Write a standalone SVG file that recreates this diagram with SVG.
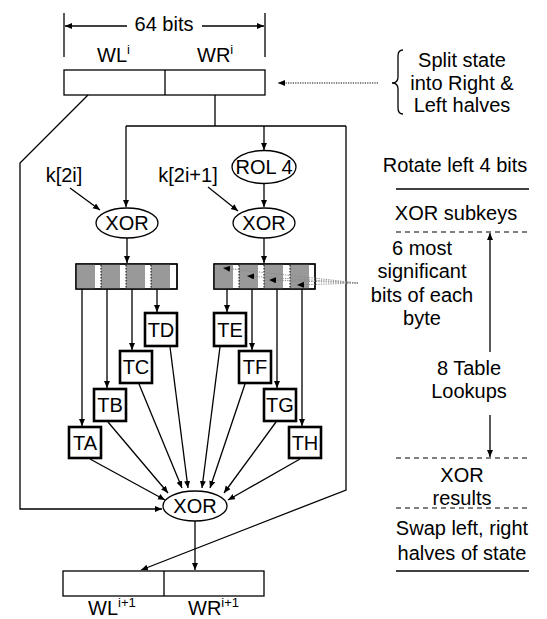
<svg xmlns="http://www.w3.org/2000/svg" width="547" height="619" viewBox="0 0 547 619">
<defs>
<marker id="ah" markerUnits="userSpaceOnUse" markerWidth="8" markerHeight="7" refX="7" refY="3" orient="auto">
<path d="M0,0 L7,3 L0,6 z" fill="#000"/>
</marker>
</defs>
<style>
text{font-family:"Liberation Sans",Arial,sans-serif;font-size:20px;fill:#000}
.c{text-anchor:middle}
.sup{font-size:13px}
.ln{fill:none;stroke:#000;stroke-width:1.3}
.ar{fill:none;stroke:#000;stroke-width:1.3;marker-end:url(#ah)}
.box{fill:#fff;stroke:#000;stroke-width:2.6}
.ell{fill:#fff;stroke:#000;stroke-width:1.3}
.regbox{fill:#fff;stroke:#000;stroke-width:1.3}
.frame{fill:none;stroke:#000;stroke-width:1.3}
.gray{fill:#999999}
.dot{fill:none;stroke:#000;stroke-width:1;stroke-dasharray:1.2 1.2}
.gdot{fill:none;stroke:#888;stroke-width:1;stroke-dasharray:1.2 1.2}
.sep{fill:none;stroke:#000;stroke-width:1;stroke-dasharray:1.5 1.5}
.dash{fill:none;stroke:#000;stroke-width:1.2;stroke-dasharray:5 4}
</style>

<g id="dimension">
<line class="ln" x1="64" y1="13" x2="64" y2="57"/>
<line class="ln" x1="265" y1="13" x2="265" y2="57"/>
<line class="ar" x1="127" y1="26" x2="65" y2="26"/>
<line class="ar" x1="202" y1="26" x2="264" y2="26"/>
<text class="c" x="164" y="31">64 bits</text>
</g>

<g id="state-in">
<rect class="regbox" x="64" y="70" width="201" height="25"/>
<line class="ln" x1="165" y1="70" x2="165" y2="95"/>
<text x="97" y="62">WL<tspan class="sup" dy="-8">i</tspan></text>
<text x="197" y="62">WR<tspan class="sup" dy="-8">i</tspan></text>
</g>

<g id="rol4">
<ellipse class="ell" cx="264" cy="167" rx="32" ry="16.5"/>
<text class="c" x="264" y="174">ROL 4</text>
</g>

<g id="xor-left">
<ellipse class="ell" cx="127" cy="223" rx="31" ry="15"/>
<text class="c" x="127" y="230">XOR</text>
</g>

<g id="xor-right">
<ellipse class="ell" cx="264" cy="223" rx="31" ry="15"/>
<text class="c" x="264" y="230">XOR</text>
</g>

<g id="k2i"><text class="c" x="64" y="182">k[2i]</text></g>
<g id="k2i1"><text class="c" x="188" y="182">k[2i+1]</text></g>

<g id="reg-left">
<rect class="regbox" x="76" y="264" width="101" height="25"/>
<rect class="gray" x="76" y="264" width="19" height="25"/>
<rect class="gray" x="101" y="264" width="19" height="25"/>
<rect class="gray" x="126" y="264" width="19" height="25"/>
<rect class="gray" x="151" y="264" width="19" height="25"/>
<rect class="frame" x="76" y="264" width="101" height="25"/>
<line class="sep" x1="101" y1="265" x2="101" y2="288"/>
<line class="sep" x1="126" y1="265" x2="126" y2="288"/>
<line class="sep" x1="151" y1="265" x2="151" y2="288"/>
</g>

<g id="reg-right">
<rect class="regbox" x="214" y="264" width="101" height="25"/>
<rect class="gray" x="214" y="264" width="19" height="25"/>
<rect class="gray" x="239" y="264" width="19" height="25"/>
<rect class="gray" x="264" y="264" width="19" height="25"/>
<rect class="gray" x="290" y="264" width="19" height="25"/>
<rect class="frame" x="214" y="264" width="101" height="25"/>
<line class="sep" x1="239" y1="265" x2="239" y2="288"/>
<line class="sep" x1="264" y1="265" x2="264" y2="288"/>
<line class="sep" x1="290" y1="265" x2="290" y2="288"/>
</g>

<g id="TD"><rect class="box" x="145" y="313" width="32" height="33"/><text class="c" x="161" y="337">TD</text></g>
<g id="TC"><rect class="box" x="120" y="351" width="32" height="32"/><text class="c" x="136" y="374">TC</text></g>
<g id="TB"><rect class="box" x="94" y="389" width="32" height="32"/><text class="c" x="110" y="412">TB</text></g>
<g id="TA"><rect class="box" x="69" y="427" width="32" height="31"/><text class="c" x="85" y="450">TA</text></g>
<g id="TE"><rect class="box" x="214" y="313" width="32" height="33"/><text class="c" x="230" y="337">TE</text></g>
<g id="TF"><rect class="box" x="239" y="351" width="32" height="32"/><text class="c" x="255" y="374">TF</text></g>
<g id="TG"><rect class="box" x="264" y="389" width="32" height="32"/><text class="c" x="280" y="412">TG</text></g>
<g id="TH"><rect class="box" x="289" y="427" width="32" height="31"/><text class="c" x="305" y="450">TH</text></g>

<g id="xor-final">
<ellipse class="ell" cx="195" cy="506" rx="32" ry="15"/>
<text class="c" x="195" y="513">XOR</text>
</g>

<g id="state-out">
<rect class="regbox" x="63" y="571" width="201" height="25"/>
<line class="ln" x1="164" y1="571" x2="164" y2="596"/>
<text x="88" y="615">WL<tspan class="sup" dy="-8">i+1</tspan></text>
<text x="188" y="615">WR<tspan class="sup" dy="-8">i+1</tspan></text>
</g>

<g id="annotations">
<path class="ln" d="M403,50 Q398,50 398,56 L398,77 Q398,83 392,83 Q398,83 398,89 L398,108 Q398,114 403,114"/>
<text class="c" x="462" y="67">Split state</text>
<text class="c" x="462" y="90">into Right &amp;</text>
<text class="c" x="462" y="112">Left halves</text>
<text class="c" x="455" y="172">Rotate left 4 bits</text>
<line class="ln" x1="396" y1="189" x2="529" y2="189"/>
<text class="c" x="456" y="220">XOR subkeys</text>
<line class="dash" x1="396" y1="232" x2="529" y2="232"/>
<text class="c" x="422" y="255">6 most</text>
<text class="c" x="422" y="278">significant</text>
<text class="c" x="422" y="302">bits of each</text>
<text class="c" x="422" y="325">byte</text>
<text class="c" x="469" y="375">8 Table</text>
<text class="c" x="469" y="398">Lookups</text>
<line class="dash" x1="396" y1="458" x2="529" y2="458"/>
<text class="c" x="462" y="482">XOR</text>
<text class="c" x="462" y="505">results</text>
<line class="dash" x1="396" y1="508" x2="529" y2="508"/>
<text class="c" x="462" y="535">Swap left, right</text>
<text class="c" x="462" y="560">halves of state</text>
<line class="ln" x1="396" y1="571" x2="529" y2="571"/>
</g>

<g id="connectors">
<polyline class="ar" points="88,95 20,163 20,509 162,509"/>
<line class="ln" x1="215" y1="95" x2="215" y2="126"/>
<polyline class="ar" points="126,126 126,207"/>
<line class="ln" x1="126" y1="126" x2="346" y2="126"/>
<line class="ar" x1="264" y1="126" x2="264" y2="150"/>
<polyline class="ar" points="346,126 346,490 141,570"/>
<line class="ar" x1="264" y1="184" x2="264" y2="207"/>
<line class="ar" x1="70" y1="188" x2="100" y2="210"/>
<line class="ar" x1="208" y1="187" x2="238" y2="211"/>
<line class="ar" x1="127" y1="238" x2="127" y2="263"/>
<line class="ar" x1="264" y1="238" x2="264" y2="263"/>
<line class="ar" x1="157" y1="289" x2="157" y2="312"/>
<line class="ar" x1="132" y1="289" x2="132" y2="350"/>
<line class="ar" x1="107" y1="289" x2="107" y2="388"/>
<line class="ar" x1="82" y1="289" x2="82" y2="426"/>
<line class="ar" x1="227" y1="289" x2="227" y2="312"/>
<line class="ar" x1="252" y1="289" x2="252" y2="350"/>
<line class="ar" x1="277" y1="289" x2="277" y2="388"/>
<line class="ar" x1="302" y1="289" x2="302" y2="426"/>
<line class="ar" x1="90" y1="459" x2="165" y2="500"/>
<line class="ar" x1="108" y1="422" x2="168" y2="493"/>
<line class="ar" x1="139" y1="384" x2="182" y2="488"/>
<line class="ar" x1="170" y1="347" x2="188" y2="488"/>
<line class="ar" x1="220" y1="347" x2="202" y2="488"/>
<line class="ar" x1="245" y1="384" x2="210" y2="488"/>
<line class="ar" x1="276" y1="422" x2="224" y2="493"/>
<line class="ar" x1="300" y1="459" x2="228" y2="500"/>
<line class="ar" x1="195" y1="521" x2="195" y2="570"/>
<line class="dot" x1="378" y1="83" x2="278" y2="83" marker-end="url(#ah)"/>
<line class="gdot" x1="358" y1="283" x2="223" y2="268" marker-end="url(#ah)"/>
<line class="gdot" x1="358" y1="283" x2="247" y2="276" marker-end="url(#ah)"/>
<line class="gdot" x1="358" y1="283" x2="269" y2="280" marker-end="url(#ah)"/>
<line class="gdot" x1="358" y1="283" x2="297" y2="285" marker-end="url(#ah)"/>
<line class="ar" x1="490" y1="352" x2="490" y2="233"/>
<line class="ar" x1="490" y1="415" x2="490" y2="457"/>
</g>
</svg>
